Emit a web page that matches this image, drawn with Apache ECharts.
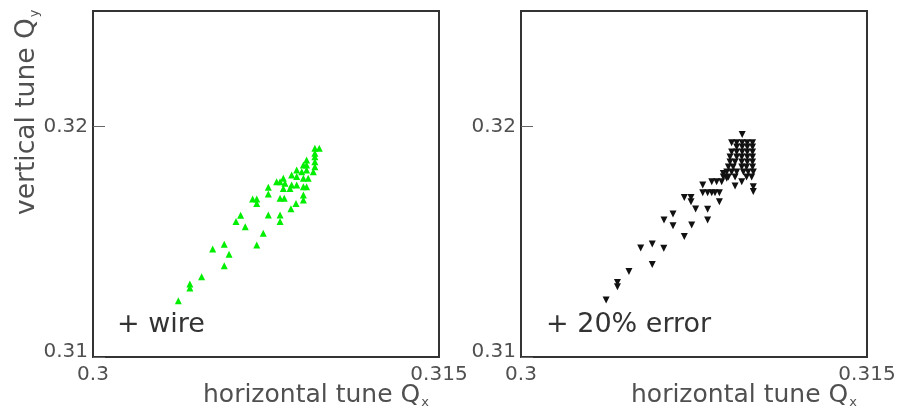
<!DOCTYPE html>
<html>
<head>
<meta charset="utf-8">
<script src="https://cdn.jsdelivr.net/npm/echarts@6/dist/echarts.min.js"></script>
<style>
  html, body { margin: 0; padding: 0; background: #fff; }
  #chart { width: 914px; height: 416px; }
</style>
</head>
<body>
<div id="chart"></div>
<script>
// Axis ranges and tick values (shared by both panels)
const xRange = [0.3, 0.315];
const yRange = [0.31, 0.325];
const xTicks = [0.3, 0.315];
const yTicks = [0.31, 0.32];

// Tune footprint with the wire compensation: [Qx, Qy]
const wirePoints = [
  [0.30370, 0.31244], [0.30420, 0.31316], [0.30420, 0.31299], [0.30471, 0.31348],
  [0.30519, 0.31468], [0.30569, 0.31489], [0.30590, 0.31445], [0.30569, 0.31396],
  [0.30640, 0.31614], [0.30620, 0.31587], [0.30660, 0.31565], [0.30710, 0.31486],
  [0.30738, 0.31536], [0.30760, 0.31616], [0.30811, 0.31616], [0.30811, 0.31587],
  [0.30858, 0.31643], [0.30880, 0.31666], [0.30692, 0.31685], [0.30710, 0.31685],
  [0.30710, 0.31666], [0.30760, 0.31736], [0.30760, 0.31707], [0.30811, 0.31688],
  [0.30829, 0.31688], [0.30962, 0.31905], [0.30981, 0.31905], [0.30962, 0.31883],
  [0.30962, 0.31868], [0.30962, 0.31847], [0.30962, 0.31825], [0.30955, 0.31803],
  [0.30926, 0.31854], [0.30912, 0.31832], [0.30926, 0.31832], [0.30883, 0.31811],
  [0.30905, 0.31803], [0.30926, 0.31811], [0.30912, 0.31775], [0.30933, 0.31775],
  [0.30861, 0.31789], [0.30883, 0.31782], [0.30825, 0.31775], [0.30796, 0.31760],
  [0.30832, 0.31753], [0.30861, 0.31746], [0.30883, 0.31746], [0.30912, 0.31738],
  [0.30926, 0.31738], [0.30825, 0.31731], [0.30854, 0.31731], [0.30912, 0.31702],
  [0.30912, 0.31681], [0.30811, 0.31760]
];

// Tune footprint with the wire plus 20% current error: [Qx, Qy]
const errorPoints = [
  [0.30369, 0.31247], [0.30418, 0.31323], [0.30418, 0.31305], [0.30468, 0.31371],
  [0.30519, 0.31473], [0.30569, 0.31490], [0.30619, 0.31471], [0.30569, 0.31401],
  [0.30620, 0.31594], [0.30659, 0.31620], [0.30659, 0.31569], [0.30708, 0.31522],
  [0.30740, 0.31572], [0.30708, 0.31691], [0.30737, 0.31691], [0.30737, 0.31673],
  [0.30757, 0.31642], [0.30809, 0.31640], [0.30809, 0.31594], [0.30860, 0.31673],
  [0.30788, 0.31746], [0.30788, 0.31712], [0.30809, 0.31712], [0.30827, 0.31712],
  [0.30841, 0.31712], [0.30860, 0.31712], [0.30827, 0.31760], [0.30848, 0.31760],
  [0.30870, 0.31760], [0.30877, 0.31796], [0.30892, 0.31775], [0.30928, 0.31741],
  [0.30957, 0.31760], [0.31007, 0.31738], [0.31007, 0.31717], [0.30959, 0.31965],
  [0.30913, 0.31929], [0.30935, 0.31929], [0.30959, 0.31929], [0.30981, 0.31929], [0.31004, 0.31929],
  [0.30935, 0.31910], [0.30959, 0.31910], [0.30981, 0.31910], [0.31004, 0.31910],
  [0.30913, 0.31889], [0.30935, 0.31889], [0.30959, 0.31889], [0.30981, 0.31889], [0.31004, 0.31889],
  [0.30906, 0.31867], [0.30935, 0.31867], [0.30957, 0.31867], [0.30981, 0.31867], [0.31004, 0.31867],
  [0.30906, 0.31845], [0.30928, 0.31845], [0.30957, 0.31845], [0.30981, 0.31845], [0.31004, 0.31845],
  [0.30899, 0.31824], [0.30920, 0.31824], [0.30957, 0.31824], [0.30978, 0.31824], [0.31004, 0.31824],
  [0.30892, 0.31802], [0.30913, 0.31802], [0.30935, 0.31802], [0.30964, 0.31802], [0.30985, 0.31802], [0.31007, 0.31802],
  [0.30877, 0.31780], [0.30899, 0.31780], [0.30928, 0.31780], [0.30978, 0.31780], [0.31000, 0.31780]
];

const panelLabels = ['+ wire', '+ 20% error'];
const xTitle = 'horizontal tune Q';
const yTitle = 'vertical tune Q';

const FONT = 'DejaVu Sans';
const TEXT = '#505050';

const chart = echarts.init(document.getElementById('chart'), null, { renderer: 'canvas' });

const gridBase = { top: 11, width: 346, height: 346, show: true, borderColor: '#333', borderWidth: 2, containLabel: false };

function xAxisFor(i) {
  return {
    type: 'value', gridIndex: i, min: xRange[0], max: xRange[1], interval: xTicks[1] - xTicks[0],
    axisLine: { show: false }, axisTick: { show: false }, splitLine: { show: false },
    axisLabel: {
      margin: 8, color: TEXT, fontFamily: FONT, fontSize: 20,
      formatter: v => {
        const t = xTicks.find(k => Math.abs(k - v) < 1e-9);
        return t === undefined ? '' : String(t);
      }
    }
  };
}
function yAxisFor(i) {
  return {
    type: 'value', gridIndex: i, min: yRange[0], max: yRange[1], interval: yTicks[1] - yTicks[0],
    axisLine: { show: false }, splitLine: { show: false },
    axisTick: { show: true, inside: true, length: 12, lineStyle: { color: '#666', width: 1 } },
    axisLabel: {
      margin: 5, color: TEXT, fontFamily: FONT, fontSize: 20, showMaxLabel: false,
      formatter: v => {
        if (Math.abs(v - yTicks[0]) < 1e-9) return '{lo|' + yTicks[0] + '}';
        const t = yTicks.find(k => Math.abs(k - v) < 1e-9);
        return t === undefined ? '' : String(t);
      },
      rich: { lo: { fontFamily: FONT, fontSize: 20, color: TEXT, padding: [0, 0, 10, 0] } }
    }
  };
}

function titleText(left, top, main, sub) {
  return {
    type: 'text', left: left, top: top,
    style: {
      text: '{m|' + main + '}{s|' + sub + '}',
      rich: {
        m: { fontFamily: FONT, fontSize: 25, fill: TEXT, color: TEXT },
        s: { fontFamily: FONT, fontSize: 13, fill: TEXT, color: TEXT, padding: [14, 0, 0, 1] }
      }
    }
  };
}

chart.setOption({
  animation: false,
  backgroundColor: '#fff',
  grid: [
    Object.assign({ left: 93 }, gridBase),
    Object.assign({ left: 521 }, gridBase)
  ],
  xAxis: [xAxisFor(0), xAxisFor(1)],
  yAxis: [yAxisFor(0), yAxisFor(1)],
  series: [
    {
      type: 'scatter', xAxisIndex: 0, yAxisIndex: 0, data: wirePoints,
      symbol: 'triangle', symbolSize: [7, 7],
      itemStyle: { color: '#00ee00', opacity: 1 }
    },
    {
      type: 'scatter', xAxisIndex: 1, yAxisIndex: 1, data: errorPoints,
      symbol: 'triangle', symbolRotate: 180, symbolSize: [7, 7],
      itemStyle: { color: '#111', opacity: 1 }
    }
  ],
  graphic: [
    titleText(203, 383, xTitle, 'x'),
    titleText(631, 383, xTitle, 'x'),
    {
      type: 'text', x: 13, y: 215, rotation: Math.PI / 2,
      style: {
        text: '{m|' + yTitle + '}{s|y}',
        rich: {
          m: { fontFamily: FONT, fontSize: 26.5, fill: TEXT, color: TEXT },
          s: { fontFamily: FONT, fontSize: 13, fill: TEXT, color: TEXT, padding: [15, 0, 0, 1] }
        }
      }
    },
    { type: 'text', left: 117, top: 311, style: { text: panelLabels[0], fontFamily: FONT, fontSize: 27, fill: '#333' } },
    { type: 'text', left: 546, top: 311, style: { text: panelLabels[1], fontFamily: FONT, fontSize: 27, fill: '#333' } }
  ]
});
</script>
</body>
</html>
